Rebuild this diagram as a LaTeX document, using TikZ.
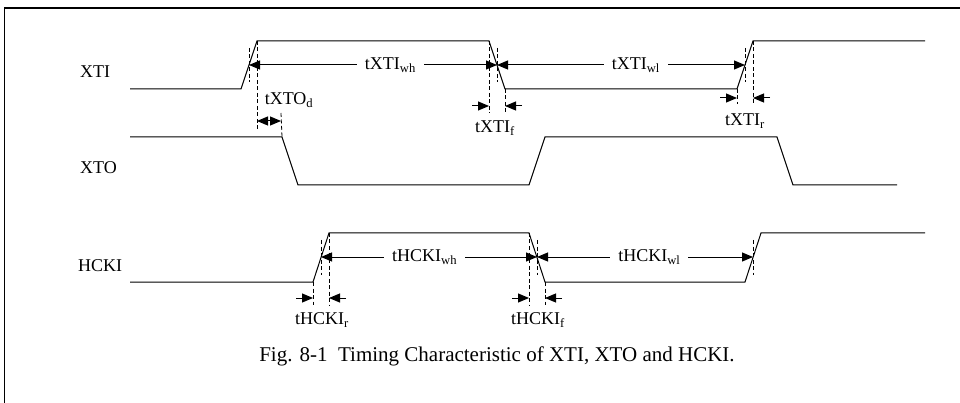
\documentclass[tikz,border=0pt]{standalone}
\usepackage{fontspec}
\setmainfont{Liberation Serif}
\usetikzlibrary{arrows.meta}
\begin{document}
\begin{tikzpicture}[x=1pt,y=-1pt,every node/.style={font=\fontsize{18}{21}\selectfont,inner sep=1pt},
  wave/.style={line width=1pt},
  guide/.style={line width=0.8pt,dash pattern=on 4pt off 2.5pt},
  dim/.style={line width=1pt,{Triangle[length=11pt,width=9pt]}-{Triangle[length=11pt,width=9pt]}},
  tick/.style={line width=1pt,-{Triangle[length=11pt,width=9pt]}}]
\useasboundingbox (0,0) rectangle (960,403);
% frame
\draw[line width=2pt] (4,8.5) -- (961,8.5);
\draw[line width=1.5pt] (4.5,7.5) -- (4.5,404);
% signal names
\node[anchor=west] (nxti) at (79,72) {XTI};
\node[anchor=west] (nxto) at (79,168) {XTO};
\node[anchor=west] (nhcki) at (77,266) {HCKI};
% edge points
\coordinate (xr1) at (241,89); \coordinate (xr1h) at (257,41);
\coordinate (xf1) at (489,41); \coordinate (xf1l) at (505,89);
\coordinate (xr2) at (737,89); \coordinate (xr2h) at (753,41);
\coordinate (of1) at (282,137); \coordinate (of1l) at (298,185);
\coordinate (or1) at (529,185); \coordinate (or1h) at (545,137);
\coordinate (of2) at (777,137); \coordinate (of2l) at (793,185);
\coordinate (hr1) at (313,282); \coordinate (hr1h) at (329,233);
\coordinate (hf1) at (529,233); \coordinate (hf1l) at (545,282);
\coordinate (hr2) at (745,282); \coordinate (hr2h) at (761,233);
% waveforms
\draw[wave] (130,89) -- (xr1) -- (xr1h) -- (xf1) -- (xf1l) -- (xr2) -- (xr2h) -- (925,41);
\draw[wave] (130,137) -- (of1) -- (of1l) -- (or1) -- (or1h) -- (of2) -- (of2l) -- (897,185);
\draw[wave] (130,282) -- (hr1) -- (hr1h) -- (hf1) -- (hf1l) -- (hr2) -- (hr2h) -- (925,233);
% guide lines
\draw[guide] (249,48) -- (249,82);
\draw[guide] (xr1h) -- (257,130);
\draw[guide] (281,113) -- (of1);
\draw[guide] (xf1) -- (489,113);
\draw[guide] (497,48) -- (497,82);
\draw[guide] (xf1l) -- (505,113);
\draw[guide] (xr2) -- (737,104);
\draw[guide] (745,48) -- (745,82);
\draw[guide] (xr2h) -- (753,104);
\draw[guide] (hr1) -- (313,305);
\draw[guide] (321,240) -- (321,275);
\draw[guide] (hr1h) -- (329,305);
\draw[guide] (hf1) -- (529,305);
\draw[guide] (537,240) -- (537,275);
\draw[guide] (hf1l) -- (545,305);
\draw[guide] (753,240) -- (753,275);
% XTI timing
\draw[dim] (249,65) -- node[pos=0.57,fill=white,inner xsep=8pt] (twh) {tXTI\textsubscript{wh}} (497,65);
\draw[dim] (497,65) -- node[pos=0.56,fill=white,inner xsep=8pt] (twl) {tXTI\textsubscript{wl}} (745,65);
\draw[dim] (257,121) -- (281,121);
\node (tod) at (289,100) {tXTO\textsubscript{d}};
\draw[tick] (472,106) -- (489,106);
\draw[tick] (522,106) -- (505,106);
\node (tf) at (495,128) {tXTI\textsubscript{f}};
\draw[tick] (720,98) -- (737,98);
\draw[tick] (770,98) -- (753,98);
\node (tr) at (745,121) {tXTI\textsubscript{r}};
% HCKI timing
\draw[dim] (321,257) -- node[pos=0.48,fill=white,inner xsep=8pt] (hwh) {tHCKI\textsubscript{wh}} (537,257);
\draw[dim] (537,257) -- node[pos=0.52,fill=white,inner xsep=8pt] (hwl) {tHCKI\textsubscript{wl}} (753,257);
\draw[tick] (296,298) -- (313,298);
\draw[tick] (346,298) -- (329,298);
\node (hr) at (322,320) {tHCKI\textsubscript{r}};
\draw[tick] (512,298) -- (529,298);
\draw[tick] (562,298) -- (545,298);
\node (hf) at (538,320) {tHCKI\textsubscript{f}};
% caption
\node[font=\fontsize{21}{25}\selectfont] (cap) at (497,356) {Fig. 8-1\ \ Timing Characteristic of XTI, XTO and HCKI.};
\end{tikzpicture}
\end{document}
